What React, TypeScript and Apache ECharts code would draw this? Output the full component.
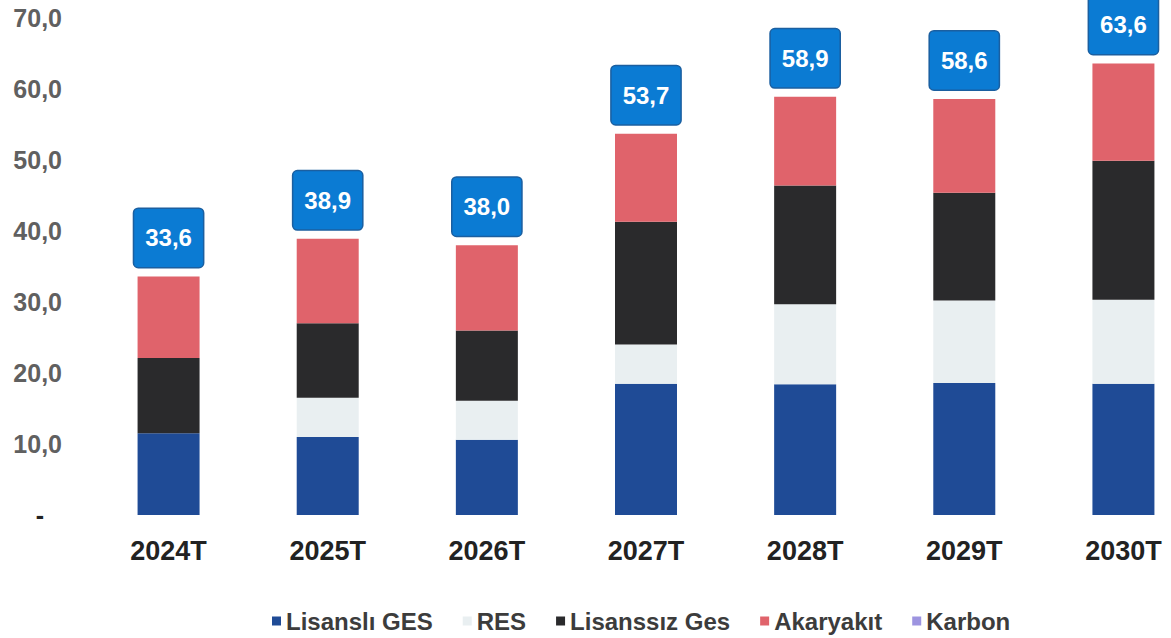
import React, { useEffect, useRef } from "react";
import * as echarts from "echarts";

const categories = ["2024T", "2025T", "2026T", "2027T", "2028T", "2029T", "2030T"];
const lisansliGes = [11.5, 11.0, 10.6, 18.5, 18.4, 18.6, 18.5];
const res = [0, 5.5, 5.5, 5.5, 11.3, 11.6, 11.8];
const lisanssizGes = [10.6, 10.5, 9.9, 17.3, 16.7, 15.2, 19.6];
const akaryakit = [11.5, 11.9, 12.0, 12.4, 12.5, 13.2, 13.7];
const karbon = [0, 0, 0, 0, 0, 0, 0];
const totals = [33.6, 38.9, 38.0, 53.7, 58.9, 58.6, 63.6];
const seriesNames = ["Lisanslı GES", "RES", "Lisanssız Ges", "Akaryakıt", "Karbon"];

const FONT = "'Liberation Sans', Arial, sans-serif";

export default function App() {
  const ref = useRef<HTMLDivElement>(null);
  useEffect(() => {
    if (!ref.current) return;
    const chart = echarts.init(ref.current, null, { renderer: "svg" });
    const colors = ["#1f4b96", "#e9eff1", "#2a2a2c", "#e0636b", "#9d94e0"];
    const values = [lisansliGes, res, lisanssizGes, akaryakit, karbon];
    const barSeries = seriesNames.map((name, i) => ({
      name,
      type: "bar",
      stack: "total",
      barWidth: 62,
      data: values[i],
      itemStyle: { color: colors[i] },
    }));
    chart.setOption({
      animation: false,
      backgroundColor: "#ffffff",
      textStyle: { fontFamily: FONT },
      grid: { left: 89, right: 0, top: 18, bottom: 123 },
      legend: {
        data: seriesNames,
        left: 267,
        top: 604,
        icon: "rect",
        itemWidth: 9,
        itemHeight: 9,
        itemGap: 30,
        textStyle: { fontSize: 24, fontWeight: "bold", color: "#3c3c3c", fontFamily: FONT },
      },
      xAxis: {
        type: "category",
        data: categories,
        axisLine: { show: false },
        axisTick: { show: false },
        axisLabel: { fontSize: 27, fontWeight: "bold", color: "#222222", margin: 22, fontFamily: FONT },
      },
      yAxis: {
        type: "value",
        min: 0,
        max: 70,
        interval: 10,
        splitLine: { show: false },
        axisLine: { show: false },
        axisTick: { show: false },
        axisLabel: {
          fontSize: 25,
          fontWeight: "bold",
          color: "#606060",
          margin: 27,
          fontFamily: FONT,
          formatter: (v: number) => (v === 0 ? "{z|-}" : v.toFixed(1).replace(".", ",")),
          rich: {
            z: { fontSize: 25, fontWeight: "bold", color: "#222222", padding: [0, 18, 0, 0], fontFamily: FONT },
          },
        },
      },
      series: [
        ...barSeries,
        {
          name: "Toplam",
          type: "scatter",
          data: totals,
          symbol: "circle",
          symbolSize: 1,
          itemStyle: { color: "rgba(0,0,0,0)", opacity: 1 },
          silent: true,
          z: 10,
          label: {
            show: true,
            position: "top",
            distance: 9,
            formatter: (p: any) => Number(p.value).toFixed(1).replace(".", ","),
            color: "#ffffff",
            fontSize: 24,
            fontWeight: "bold",
            fontFamily: FONT,
            lineHeight: 24,
            backgroundColor: "#0b7bd3",
            borderColor: "#1b5fa0",
            borderWidth: 1.5,
            borderRadius: 4,
            padding: [17, 11, 17, 11],
          },
        },
      ],
    });
    return () => chart.dispose();
  }, []);
  return (
    <div
      ref={ref}
      style={{ position: "fixed", left: 0, top: 0, width: 1203, height: 638 }}
    />
  );
}
